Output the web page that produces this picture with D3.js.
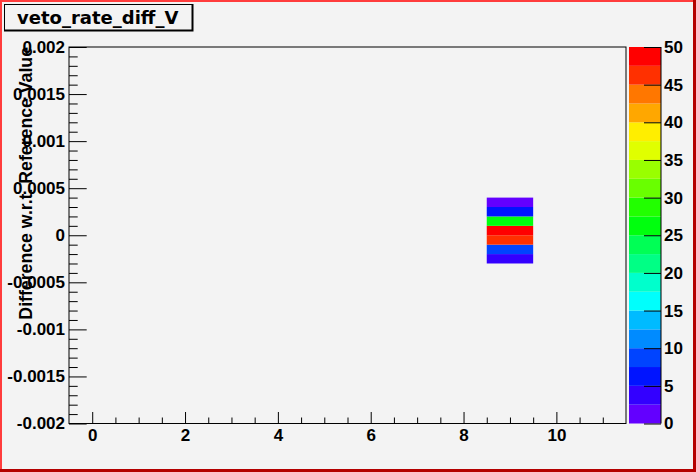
<!DOCTYPE html>
<html lang="en">
<head>
<meta charset="UTF-8">
<title>veto_rate_diff_V</title>
<script src="https://d3js.org/d3.v7.min.js"></script>
<style>
    body { margin: 0; background: #f3f3f3; }
    svg { display: block; }
</style>
</head>
<body>
<div id="chart"></div>
<script>
    // histogram contents (one filled x bin)
    const xBin = 9;
    const yBinLow = [-0.0003, -0.0002, -0.0001, 0, 0.0001, 0.0002, 0.0003];
    const counts = [3, 9, 46, 50, 26, 6, 2];
    const yBinWidth = 0.0001;

    const xMajorTicks = [0, 2, 4, 6, 8, 10];
    const xMinorTicks = [0.5, 1, 1.5, 2.5, 3, 3.5, 4.5, 5, 5.5, 6.5, 7, 7.5, 8.5, 9, 9.5, 10.5, 11];
    const yMajorTicks = [-0.002, -0.0015, -0.001, -0.0005, 0, 0.0005, 0.001, 0.0015, 0.002];
    const yTickLabels = ["-0.002", "-0.0015", "-0.001", "-0.0005", "0", "0.0005", "0.001", "0.0015", "0.002"];
    const zTicks = [0, 5, 10, 15, 20, 25, 30, 35, 40, 45, 50];

    const width = 696, height = 472;
    const frame = { left: 69, right: 626, top: 47, bottom: 423.5 };
    const nLevels = 20, zMax = 50;
    const bg = "#f3f3f3";
    const tickFont = "'Liberation Sans', Arial, Helvetica, sans-serif";

    const svg = d3.select("#chart").append("svg")
        .attr("width", width)
        .attr("height", height);

    svg.append("rect").attr("width", width).attr("height", height).attr("fill", bg);

    // canvas border
    svg.append("rect").attr("x", 0).attr("y", 0).attr("width", width).attr("height", 2).attr("fill", "#ff3c3c");
    svg.append("rect").attr("x", 0).attr("y", 0).attr("width", 2).attr("height", height).attr("fill", "#ff3c3c");
    svg.append("rect").attr("x", width - 3).attr("y", 0).attr("width", 3).attr("height", height).attr("fill", "#b40000");
    svg.append("rect").attr("x", 0).attr("y", height - 3).attr("width", width).attr("height", 3).attr("fill", "#b40000");

    const x = d3.scaleLinear().domain([-0.5, 11.5]).range([frame.left, frame.right]);
    const y = d3.scaleLinear().domain([-0.002, 0.002]).range([frame.bottom, frame.top]);
    const z = d3.scaleLinear().domain([0, zMax]).range([frame.bottom, frame.top]);

    // ROOT "pretty" palette, 50 colours violet -> red
    function paletteColor(level) {
        const idx = Math.floor((level + 0.99) * 50 / nLevels);
        const hue = 280 - (Math.min(idx, 49) + 1) * 5.6;
        return d3.hsl(hue, 1, 0.5).toString();
    }
    function valueColor(v) {
        let k = Math.floor(v / zMax * nLevels);
        if (k > nLevels - 1) k = nLevels - 1;
        return paletteColor(k);
    }

    // cells
    svg.append("g").selectAll("rect")
        .data(counts)
        .join("rect")
        .attr("x", x(xBin - 0.5))
        .attr("width", x(xBin + 0.5) - x(xBin - 0.5))
        .attr("y", (d, i) => y(yBinLow[i] + yBinWidth))
        .attr("height", (d, i) => y(yBinLow[i]) - y(yBinLow[i] + yBinWidth))
        .attr("fill", d => valueColor(d));

    // frame
    svg.append("rect")
        .attr("x", frame.left).attr("y", frame.top)
        .attr("width", frame.right - frame.left)
        .attr("height", frame.bottom - frame.top)
        .attr("fill", "none").attr("stroke", "#000").attr("stroke-width", 1);

    function styleAxis(g) {
        g.select(".domain").remove();
        g.selectAll("line").attr("stroke", "#000");
        g.attr("font-family", tickFont).attr("font-size", 17).attr("font-weight", "bold");
        g.selectAll("text").attr("fill", "#000");
    }

    // x axis
    svg.append("g")
        .attr("transform", `translate(0,${frame.bottom})`)
        .call(d3.axisBottom(x).tickValues(xMinorTicks).tickSizeInner(-6).tickSizeOuter(0).tickFormat(""))
        .call(styleAxis);
    svg.append("g")
        .attr("transform", `translate(0,${frame.bottom})`)
        .call(d3.axisBottom(x).tickValues(xMajorTicks).tickSizeInner(-11.5).tickSizeOuter(0).tickPadding(5.5).tickFormat(d3.format("d")))
        .call(styleAxis);

    // y axis
    const yMinor = d3.range(-20, 21).map(i => i * 0.0001).filter(v => Math.round(v * 10000) % 5 !== 0);
    svg.append("g")
        .attr("transform", `translate(${frame.left},0)`)
        .call(d3.axisLeft(y).tickValues(yMinor).tickSizeInner(-8.7).tickSizeOuter(0).tickFormat(""))
        .call(styleAxis);
    svg.append("g")
        .attr("transform", `translate(${frame.left},0)`)
        .call(d3.axisLeft(y).tickValues(yMajorTicks).tickSizeInner(-17.7).tickSizeOuter(0).tickPadding(4)
            .tickFormat((d, i) => yTickLabels[i]))
        .call(styleAxis);

    // y axis title
    svg.append("text")
        .attr("transform", `translate(32,${frame.top}) rotate(-90)`)
        .attr("text-anchor", "end")
        .attr("font-family", tickFont)
        .attr("font-size", 17.7)
        .attr("font-weight", "bold")
        .text("Difference w.r.t. Reference Value");

    // palette
    const pal = { left: 629, right: 661 };
    svg.append("g").selectAll("rect")
        .data(d3.range(nLevels))
        .join("rect")
        .attr("x", pal.left)
        .attr("width", pal.right - pal.left)
        .attr("y", k => z((k + 1) * zMax / nLevels))
        .attr("height", k => z(k * zMax / nLevels) - z((k + 1) * zMax / nLevels))
        .attr("fill", k => paletteColor(k));

    const zAxis = svg.append("g")
        .attr("transform", `translate(${pal.right},0)`)
        .call(d3.axisRight(z).tickValues(zTicks).tickSizeInner(-17).tickSizeOuter(0).tickPadding(3))
        .call(styleAxis);
    zAxis.append("line")
        .attr("y1", frame.top).attr("y2", frame.bottom)
        .attr("stroke", "#000");

    // title box
    svg.append("rect").attr("x", 4).attr("y", 4).attr("width", 189.5).attr("height", 27.5).attr("fill", "#000");
    svg.append("rect").attr("x", 5).attr("y", 5).attr("width", 186.5).attr("height", 24.5).attr("fill", bg);
    svg.append("text")
        .attr("x", 17)
        .attr("y", 23.5)
        .attr("font-family", "'DejaVu Sans', sans-serif")
        .attr("font-size", 18)
        .attr("font-weight", "bold")
        .text("veto_rate_diff_V");
</script>
</body>
</html>
